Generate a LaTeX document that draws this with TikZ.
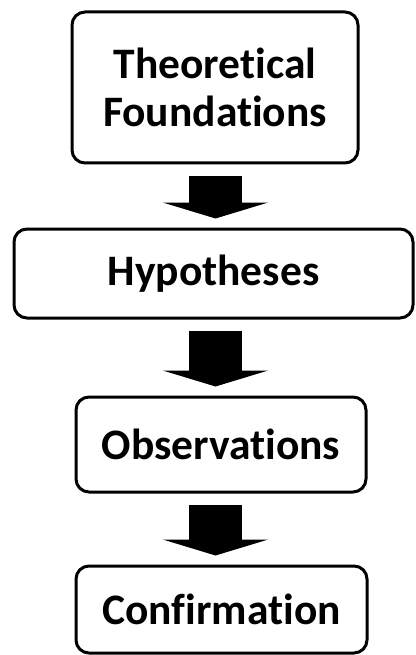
\documentclass[tikz,border=0pt]{standalone}
\usepackage{fontspec}
\setmainfont[Ligatures=NoCommon]{Carlito}
\usetikzlibrary{arrows.meta}

\begin{document}
\begin{tikzpicture}[x=1pt,y=-1pt,
  stage/.style={draw=black, line width=3pt, rounded corners=13pt,
    align=center, inner sep=0pt,
    font=\fontsize{43.5}{48}\selectfont\bfseries},
  flow/.style={line width=53pt,
    -{Triangle[width=105pt,length=16pt]},
    shorten <=11pt, shorten >=9pt}]
  \useasboundingbox (0,0) rectangle (415,655);

  \node[stage, minimum width=286pt, minimum height=151pt] (theory) at (215,87.5)
    {Theoretical\\Foundations};
  \node[stage, minimum width=399pt, minimum height=89pt] (hyp) at (213.5,273.5)
    {Hypotheses};
  \node[stage, minimum width=290pt, minimum height=95pt] (obs) at (221,444.5)
    {Observations};
  \node[stage, minimum width=291pt, minimum height=87pt] (conf) at (221.5,609.5)
    {Confirmation};

  % block arrows between the stages
  \coordinate (a1) at (215.5,0);
  \draw[flow] (theory.south -| a1) -- (hyp.north -| a1);
  \draw[flow] (hyp.south -| a1) -- (obs.north -| a1);
  \draw[flow] (obs.south -| a1) -- (conf.north -| a1);
\end{tikzpicture}
\end{document}
